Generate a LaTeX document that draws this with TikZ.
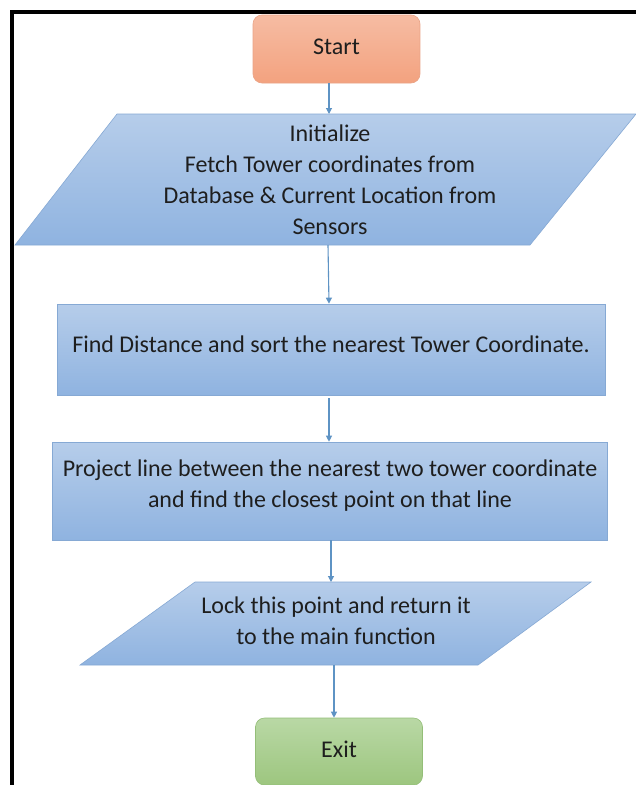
\documentclass[tikz,border=0pt]{standalone}
\usepackage{fontspec}
\setmainfont{Carlito}
\usetikzlibrary{arrows.meta}
\definecolor{bluetop}{HTML}{B6CDEA}
\definecolor{bluebot}{HTML}{8FB3E0}
\definecolor{blueline}{HTML}{86A9D4}
\definecolor{arrowc}{HTML}{5E93C4}
\definecolor{orgtop}{HTML}{F6BCA3}
\definecolor{orgbot}{HTML}{F3A27F}
\definecolor{orgline}{HTML}{EAA487}
\definecolor{grntop}{HTML}{B9D8A5}
\definecolor{grnbot}{HTML}{9DC67F}
\definecolor{grnline}{HTML}{94BE78}
\definecolor{txt}{HTML}{1E1E1E}
\begin{document}
\begin{tikzpicture}[x=1pt,y=1pt,
  every node/.style={text=txt, font=\fontsize{24}{31}\selectfont},
  termbox/.style={rounded corners=9pt, minimum width=167pt, inner sep=0pt, line width=0.6pt},
  startbox/.style={termbox, top color=orgtop, bottom color=orgbot, draw=orgline, minimum height=68pt},
  exitbox/.style={termbox, top color=grntop, bottom color=grnbot, draw=grnline, minimum height=67pt},
  procbox/.style={top color=bluetop, bottom color=bluebot, draw=blueline, line width=0.6pt, inner sep=0pt},
  iobox/.style={top color=bluetop, bottom color=bluebot, draw=blueline, line width=0.6pt},
  lbl/.style={align=center, inner sep=0pt},
  arr/.style={draw=arrowc, line width=1.1pt, -{Triangle[width=6pt,length=6pt]}}
]
\useasboundingbox (0,0) rectangle (635,-785);
\fill[white] (0,0) rectangle (635,-785);
% frame
\draw[line width=3.2pt, black] (12,-786) -- (12,-12) -- (636,-12);

% Start
\node[startbox] (start) at (336.5,-49) {\raisebox{5pt}{Start}};

% Parallelogram 1
\coordinate (p1tl) at (117,-114);
\coordinate (p1tr) at (636,-114);
\coordinate (p1br) at (530,-245);
\coordinate (p1bl) at (15,-245);
\path[iobox] (p1tl) -- (p1tr) -- (p1br) -- (p1bl) -- cycle;
\coordinate (p1top) at (329,-114);
\coordinate (p1bot) at (328,-245);
\node[lbl] (init) at (330,-180) {Initialize\\Fetch Tower coordinates from\\Database \& Current Location from\\Sensors};

% Rect 1
\node[procbox, minimum width=548pt, minimum height=91pt] (find) at (331,-349.5) {};
\node[lbl] (findtxt) at (331,-344) {Find Distance and sort the nearest Tower Coordinate.};

% Rect 2
\node[procbox, minimum width=555pt, minimum height=98pt] (proj) at (329.5,-491) {};
\node[lbl] (projtxt) at (330,-486) {Project line between the nearest two tower coordinate\\and find the closest point on that line};

% Parallelogram 2
\coordinate (p2tl) at (195,-582);
\coordinate (p2tr) at (591,-582);
\coordinate (p2br) at (478,-665);
\coordinate (p2bl) at (80,-665);
\path[iobox] (p2tl) -- (p2tr) -- (p2br) -- (p2bl) -- cycle;
\coordinate (p2top) at (331,-582);
\coordinate (p2bot) at (334,-665);
\node[lbl] (lock) at (336,-621) {Lock this point and return it\\to the main function};

% Exit
\node[exitbox] (exit) at (339,-751.5) {\raisebox{5pt}{Exit}};

% connectors
\draw[arr] (start.south -| p1top) -- (p1top);
\draw[arr] (p1bot) -- (find.north -| p1top);
\coordinate (a3) at (329,-398);
\draw[arr] (a3) -- (proj.north -| a3);
\draw[arr] (proj.south -| p2top) -- (p2top);
\draw[arr] (p2bot) -- (exit.north -| p2bot);
\end{tikzpicture}
\end{document}
